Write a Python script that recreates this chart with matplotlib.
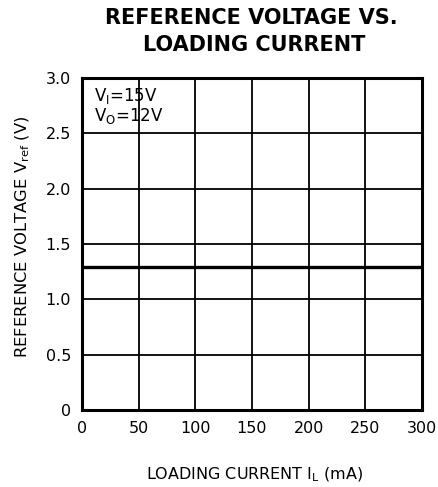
import matplotlib
matplotlib.use("Agg")
import matplotlib.pyplot as plt
import numpy as np

# Data
load_current_mA = [0, 50, 100, 150, 200, 250, 300]
ref_voltage_V = [1.29, 1.29, 1.29, 1.29, 1.29, 1.29, 1.29]
x_ticks = [0, 50, 100, 150, 200, 250, 300]
y_ticks = [0, 0.5, 1.0, 1.5, 2.0, 2.5, 3.0]
y_tick_labels = ["0", "0.5", "1.0", "1.5", "2.0", "2.5", "3.0"]

plt.rcParams['font.family'] = ['DejaVu Sans']

fig = plt.figure(figsize=(4.38, 4.87), dpi=100)
ax = fig.add_axes([82/438, 1-410/487, (422-82)/438, (410-78)/487])

ax.plot(load_current_mA, ref_voltage_V, color='black', linewidth=2.4, solid_capstyle='butt')

ax.set_xlim(0, 300)
ax.set_ylim(0, 3.0)
ax.set_xticks(x_ticks)
ax.set_yticks(y_ticks)
ax.set_yticklabels(y_tick_labels)
ax.grid(True, color='black', linewidth=1.3)
ax.set_axisbelow(False)
for s in ax.spines.values():
    s.set_linewidth(2.2)
ax.tick_params(axis='both', length=0, labelsize=11.5, colors='black')
ax.tick_params(axis='x', pad=8)
ax.tick_params(axis='y', pad=8)

ax.set_xlabel("LOADING CURRENT $\\mathregular{I_L}$ (mA)", fontsize=11.5)
ax.xaxis.set_label_coords((254-82)/340, -(475-410)/332)
ax.set_ylabel("REFERENCE VOLTAGE $\\mathregular{V_{ref}}$ (V)", fontsize=11.8)
ax.yaxis.set_label_coords((23-82)/340, (410-237)/332)
ax.xaxis.label.set_va('center')
ax.yaxis.label.set_va('center')

ax.text(0.035, 0.975, "$\\mathregular{V_I}$=15V\n$\\mathregular{V_O}$=12V", transform=ax.transAxes,
        ha='left', va='top', fontsize=12, linespacing=1.0)

fig.text(251/438, 1-18/487, "REFERENCE VOLTAGE VS.", ha='center', va='center',
         fontsize=15, fontweight='bold')
fig.text(254/438, 1-45/487, "LOADING CURRENT", ha='center', va='center',
         fontsize=15, fontweight='bold')

fig.savefig("out.png", dpi=100, facecolor='white')
